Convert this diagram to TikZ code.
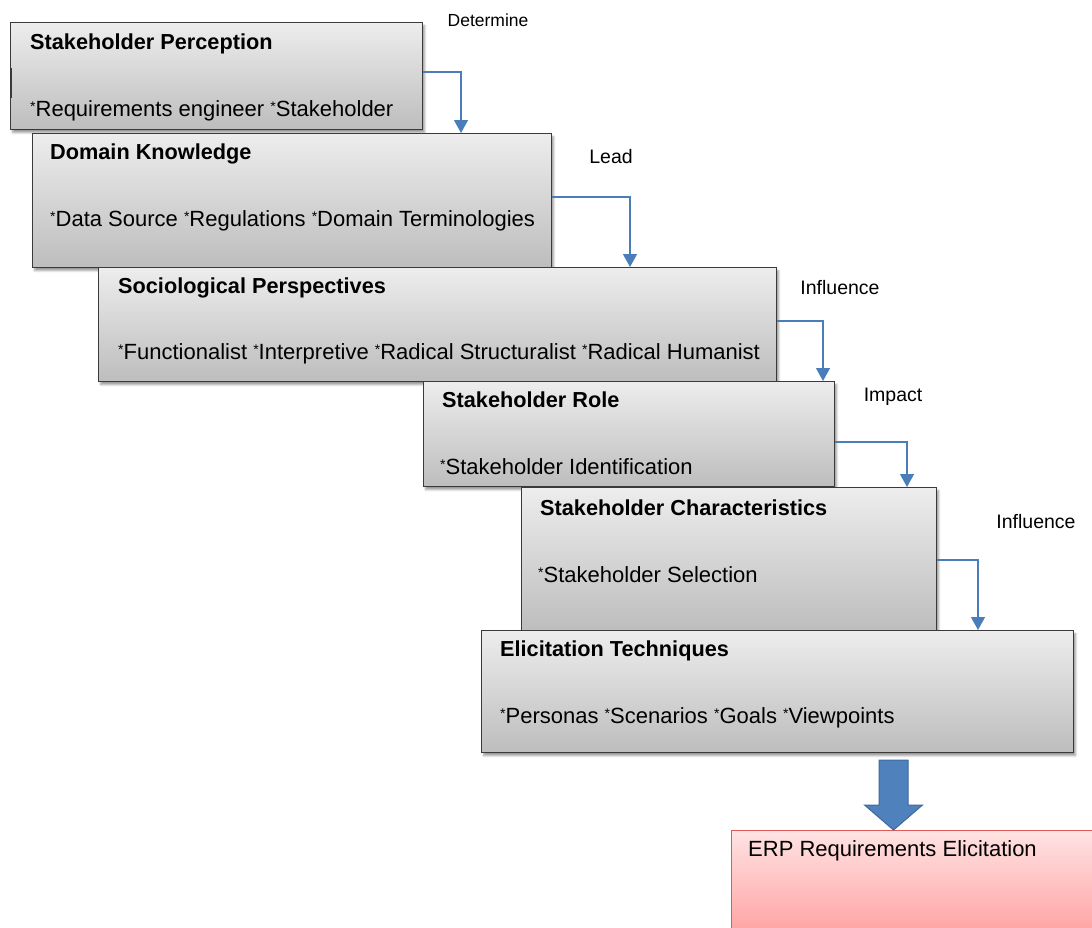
\documentclass[tikz,border=0pt]{standalone}
\usepackage{fontspec}
\setmainfont{Liberation Sans}
\usetikzlibrary{arrows.meta,shadows.blur,calc}
\definecolor{boxtop}{HTML}{EDEDED}
\definecolor{boxbot}{HTML}{BDBDBD}
\definecolor{boxline}{HTML}{3A3A3A}
\definecolor{linkblue}{HTML}{4A7EBB}
\definecolor{bigblue}{HTML}{4F81BD}
\definecolor{bigedge}{HTML}{3C6A9C}
\definecolor{erptop}{HTML}{FFE3E3}
\definecolor{erpbot}{HTML}{FF9E9E}
\definecolor{erpline}{HTML}{E05A5A}
% small raised bullet star used in the item lists
\newcommand{\itemstar}{\raisebox{5pt}{\fontsize{14}{14}\selectfont*}}

\begin{document}
\begin{tikzpicture}[x=1pt,y=-1pt,
  stage/.style={draw=boxline, line width=1.3pt, top color=boxtop, bottom color=boxbot,
    inner sep=0pt, anchor=north west,
    blur shadow={shadow xshift=2pt, shadow yshift=-3pt, shadow opacity=40,
      shadow blur radius=2pt, shadow blur steps=6}},
  head/.style={font=\fontsize{21.7}{25}\selectfont\bfseries, anchor=west, inner sep=0pt},
  item/.style={font=\fontsize{22}{25}\selectfont, anchor=west, inner sep=0pt},
  verb/.style={font=\fontsize{19.5}{22}\selectfont, inner sep=0pt},
  link/.style={draw=linkblue, line width=1.3pt, -{Triangle[width=14pt,length=13pt]}},
]
\path[use as bounding box] (0,0) rectangle (1092,927);
\clip (0,0) rectangle (1092,927);

% stages, drawn top to bottom so each overlaps the one above
\node[stage, minimum width=412pt, minimum height=107pt] (b1) at (10,22) {};
\draw[boxline, line width=2.5pt] (11,68) -- (11,98);
\node[head] (h1) at (30,44) {Stakeholder Perception};
\node[item] (i1) at (30,111) {\itemstar Requirements engineer \itemstar Stakeholder};

\node[stage, minimum width=519pt, minimum height=134pt] (b2) at (32,133) {};
\node[head] (h2) at (50,154) {Domain Knowledge};
\node[item] (i2) at (50,221) {\itemstar Data Source \itemstar Regulations \itemstar Domain Terminologies};

\node[stage, minimum width=678pt, minimum height=114pt] (b3) at (98,267) {};
\node[head] (h3) at (118,288) {Sociological Perspectives};
\node[item] (i3) at (118,354) {\itemstar Functionalist \itemstar Interpretive \itemstar Radical Structuralist \itemstar Radical Humanist};

\node[stage, minimum width=411pt, minimum height=105pt] (b4) at (423,381) {};
\node[head] (h4) at (442,400) {Stakeholder Role};
\node[item] (i4) at (440,467) {\itemstar Stakeholder Identification};

\node[stage, minimum width=415pt, minimum height=143pt] (b5) at (521,487) {};
\node[head] (h5) at (540,508) {Stakeholder Characteristics};
\node[item] (i5) at (538,575) {\itemstar Stakeholder Selection};

\node[stage, minimum width=592pt, minimum height=122pt] (b6) at (481,630) {};
\node[head] (h6) at (500,651) {Elicitation Techniques};
\node[item] (i6) at (500,718) {\itemstar Personas \itemstar Scenarios \itemstar Goals \itemstar Viewpoints};

% outcome box
\node[draw=erpline, line width=1.3pt, top color=erptop, bottom color=erpbot,
  inner sep=0pt, anchor=north west, minimum width=380pt, minimum height=110pt] (erp) at (731,830) {};
\node[item] (i7) at (748,851) {ERP Requirements Elicitation};

% elbow connectors with their verbs
\coordinate (j1) at (461,72);
\coordinate (j2) at (630,197);
\coordinate (j3) at (823,321);
\coordinate (j4) at (907,442);
\coordinate (j5) at (978,560);
\draw[link] (b1.east |- j1) -| (b2.north -| j1);
\draw[link] (b2.east |- j2) -| (b3.north -| j2);
\draw[link] (b3.east |- j3) -| (b4.north -| j3);
\draw[link] (b4.east |- j4) -| (b5.north -| j4);
\draw[link] (b5.east |- j5) -| (b6.north -| j5);

\node[verb, font=\fontsize{17.5}{21}\selectfont] (v1) at (488,20) {Determine};
\node[verb] (v2) at (611,157) {Lead};
\node[verb] (v3) at (840,288) {Influence};
\node[verb] (v4) at (893,397) {Impact};
\node[verb] (v5) at (1036,522) {Influence};

% block arrow into the outcome
\coordinate (fa) at (893.5,760);
\filldraw[fill=bigblue, draw=bigedge, line width=1pt]
  ($(fa)+(-14.5,0)$) -- ($(fa)+(14.5,0)$) -- ($(fa)+(14.5,45)$) -- ($(fa)+(29,45)$)
  -- (erp.north -| fa) -- ($(fa)+(-29,45)$) -- ($(fa)+(-14.5,45)$) -- cycle;
\end{tikzpicture}
\end{document}
